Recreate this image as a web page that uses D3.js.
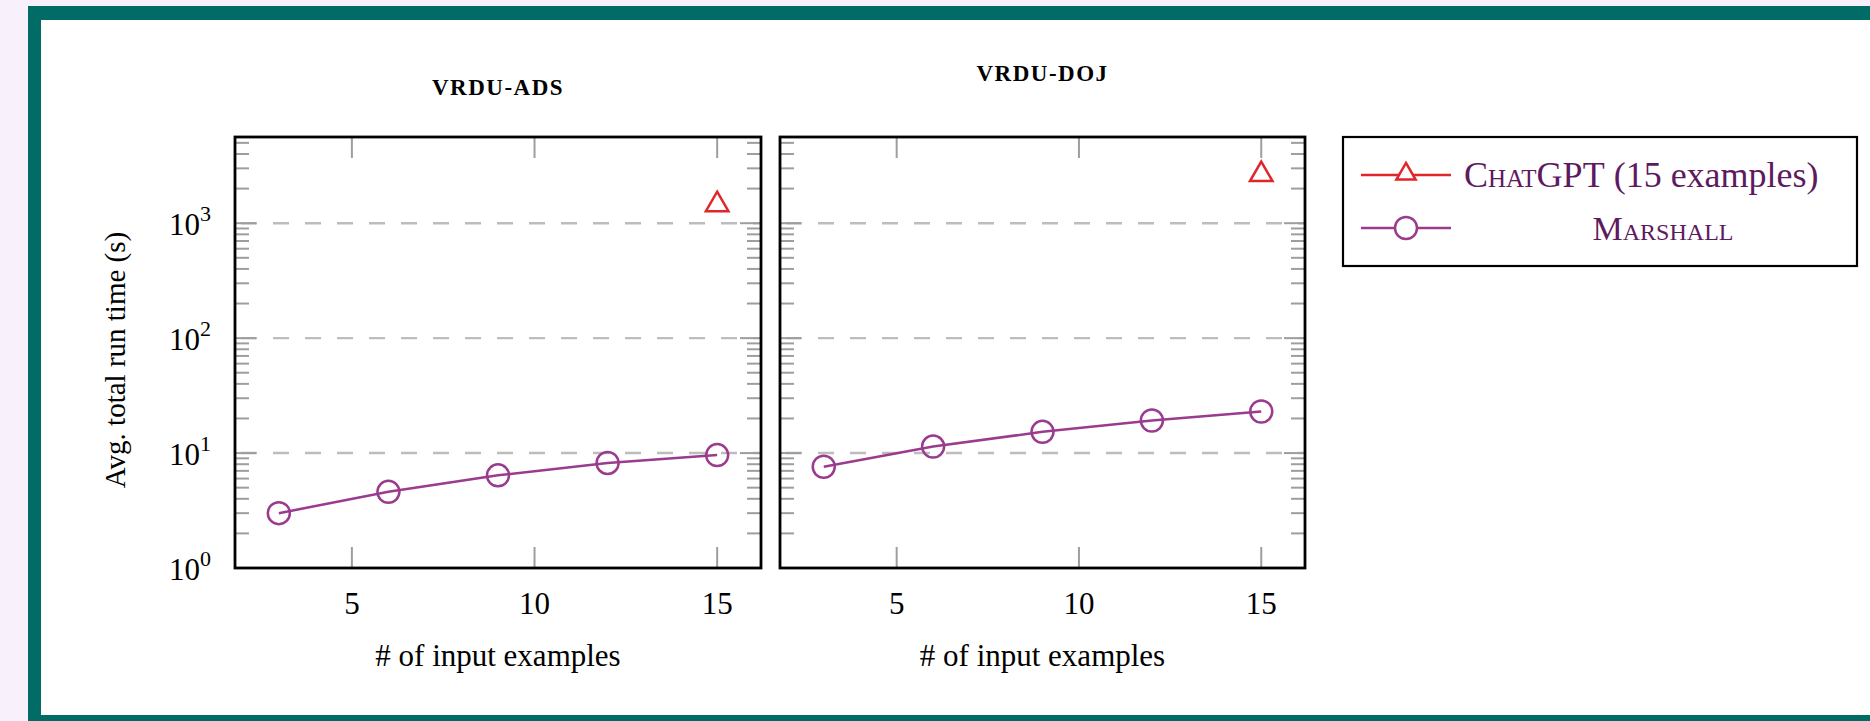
<!DOCTYPE html>
<html>
<head>
<meta charset="utf-8">
<script src="https://cdn.jsdelivr.net/npm/d3@7/dist/d3.min.js"></script>
<style>
  html, body { margin: 0; padding: 0; background: #f8f1fb; }
  svg { display: block; }
  text { font-family: "Liberation Serif", "DejaVu Serif", serif; fill: #000; }
</style>
</head>
<body>
<svg id="chart" width="1870" height="721"></svg>
<script>
// ── data ─────────────────────────────────────────────
const panelTitles  = ['VRDU-ADS', 'VRDU-DOJ'];
const xValues      = [3, 6, 9, 12, 15];
const marshallAds  = [3.0, 4.6, 6.4, 8.2, 9.6];
const marshallDoj  = [7.6, 11.4, 15.3, 19.2, 23.0];
const chatgptX     = [15];
const chatgptAds   = [1450];
const chatgptDoj   = [2650];
const xTicks       = [5, 10, 15];
const yTicks       = [1, 10, 100, 1000];
const yTickExp     = ['0', '1', '2', '3'];
const legendLabels = ['ChatGPT', 'Marshall'];

// ── layout ───────────────────────────────────────────
const W = 1870, H = 721;
const plotTop = 137, plotBottom = 568;
const panelsX = [[235, 761], [780, 1305]];
const titleBase = [95, 81];
const PURPLE = '#9a3b8d', RED = '#e0262b', GRID = '#bdbdbd', TICK = '#9e9e9e';
const FS = 31;

const svg = d3.select('#chart');

// frame
svg.append('rect').attr('width', W).attr('height', H).attr('fill', '#f8f1fb');
svg.append('rect').attr('x', 28).attr('y', 6).attr('width', W + 40).attr('height', 722)
    .attr('fill', '#016c66');
svg.append('rect').attr('x', 41).attr('y', 20).attr('width', W + 40).attr('height', 695)
    .attr('fill', '#fff');

const y = d3.scaleLog().domain([1, Math.pow(10, 3.75)]).range([plotBottom, plotTop]);
const minorTicks = [];
for (let k = 0; k < 4; k++) for (let m = 2; m <= 9; m++) {
    const v = m * Math.pow(10, k);
    if (v < Math.pow(10, 3.75)) minorTicks.push(v);
}

function drawPanel(i, marshall, chatgpt) {
    const [x0, x1] = panelsX[i];
    const x = d3.scaleLinear().domain([1.8, 16.2]).range([x0, x1]);
    const g = svg.append('g');

    // dashed grid
    g.selectAll('.grid').data(yTicks.slice(1)).enter().append('line')
        .attr('x1', x0).attr('x2', x1).attr('y1', d => y(d)).attr('y2', d => y(d))
        .attr('stroke', GRID).attr('stroke-width', 2.4).attr('stroke-dasharray', '16,16')
        .attr('stroke-dashoffset', -6);

    // y ticks (inside, both sides)
    [[x0, 1], [x1, -1]].forEach(([ax, dir]) => {
        g.selectAll(null).data(minorTicks).enter().append('line')
            .attr('x1', ax).attr('x2', ax + dir * 14)
            .attr('y1', d => y(d)).attr('y2', d => y(d))
            .attr('stroke', TICK).attr('stroke-width', 2);
        g.selectAll(null).data(yTicks.slice(1)).enter().append('line')
            .attr('x1', ax).attr('x2', ax + dir * 21)
            .attr('y1', d => y(d)).attr('y2', d => y(d))
            .attr('stroke', TICK).attr('stroke-width', 2);
    });

    // x ticks (inside, top + bottom)
    [[plotBottom, -1], [plotTop, 1]].forEach(([ay, dir]) => {
        g.selectAll(null).data(xTicks).enter().append('line')
            .attr('x1', d => x(d)).attr('x2', d => x(d))
            .attr('y1', ay).attr('y2', ay + dir * 21)
            .attr('stroke', TICK).attr('stroke-width', 2);
    });

    // x tick labels
    g.selectAll(null).data(xTicks).enter().append('text')
        .attr('x', d => x(d)).attr('y', 614).attr('text-anchor', 'middle')
        .attr('font-size', FS).text(d => d);

    g.append('text').attr('x', (x0 + x1) / 2).attr('y', 666).attr('text-anchor', 'middle')
        .attr('font-size', FS).text('# of input examples');

    g.append('text').attr('x', (x0 + x1) / 2).attr('y', titleBase[i]).attr('text-anchor', 'middle')
        .attr('font-size', 23).attr('font-weight', 'bold').attr('letter-spacing', 1.5)
        .text(panelTitles[i]);

    // Marshall line
    const line = d3.line().x((d, j) => x(xValues[j])).y(d => y(d));
    g.append('path').datum(marshall).attr('d', line)
        .attr('fill', 'none').attr('stroke', PURPLE).attr('stroke-width', 2.5);
    g.selectAll(null).data(marshall).enter().append('circle')
        .attr('cx', (d, j) => x(xValues[j])).attr('cy', d => y(d)).attr('r', 11)
        .attr('fill', 'none').attr('stroke', PURPLE).attr('stroke-width', 2.5);

    // ChatGPT marker
    const tri = d3.symbol().type(d3.symbolTriangle).size(220);
    g.selectAll(null).data(chatgpt).enter().append('path')
        .attr('d', tri)
        .attr('transform', (d, j) => `translate(${x(chatgptX[j])},${y(d)})`)
        .attr('fill', 'none').attr('stroke', RED).attr('stroke-width', 2.5);

    // axis box
    g.append('rect').attr('x', x0).attr('y', plotTop).attr('width', x1 - x0).attr('height', plotBottom - plotTop)
        .attr('fill', 'none').attr('stroke', '#000').attr('stroke-width', 2.8);
}

drawPanel(0, marshallAds, chatgptAds);
drawPanel(1, marshallDoj, chatgptDoj);

// y tick labels (only on the first panel)
const yl = svg.append('g');
yTicks.forEach((v, i) => {
    const t = yl.append('text').attr('x', 211).attr('y', y(v) + 12)
        .attr('text-anchor', 'end').attr('font-size', FS);
    t.append('tspan').text('10');
    t.append('tspan').attr('dy', -14).attr('font-size', 22).text(yTickExp[i]);
});

svg.append('text').attr('transform', 'translate(125,360) rotate(-90)')
    .attr('text-anchor', 'middle').attr('font-size', 29).text('Avg. total run time (s)');

// ── legend ───────────────────────────────────────────
const lg = svg.append('g');
lg.append('rect').attr('x', 1343).attr('y', 137).attr('width', 514).attr('height', 129)
    .attr('fill', '#fff').attr('stroke', '#000').attr('stroke-width', 2.2);
const rows = [175, 228];
const colors = [RED, PURPLE];
rows.forEach((ry, i) => {
    lg.append('line').attr('x1', 1361).attr('x2', 1451).attr('y1', ry).attr('y2', ry)
        .attr('stroke', colors[i]).attr('stroke-width', 2.5);
});
lg.append('path').attr('d', d3.symbol().type(d3.symbolTriangle).size(160))
    .attr('transform', `translate(1406,${rows[0] - 1})`)
    .attr('fill', '#fff').attr('stroke', RED).attr('stroke-width', 2.5);
lg.append('circle').attr('cx', 1406).attr('cy', rows[1]).attr('r', 11)
    .attr('fill', '#fff').attr('stroke', PURPLE).attr('stroke-width', 2.5);

const t1 = lg.append('text').attr('x', 1464).attr('y', rows[0] + 12)
    .attr('font-size', 36).style('fill', '#5e1a60');
t1.append('tspan').style('font-variant', 'small-caps').text(legendLabels[0]);
t1.append('tspan').text(' (15 examples)');
lg.append('text').attr('x', 1663).attr('y', rows[1] + 12).attr('text-anchor', 'middle')
    .attr('font-size', 34).style('fill', '#5e1a60').style('font-variant', 'small-caps')
    .text(legendLabels[1]);
</script>
</body>
</html>
